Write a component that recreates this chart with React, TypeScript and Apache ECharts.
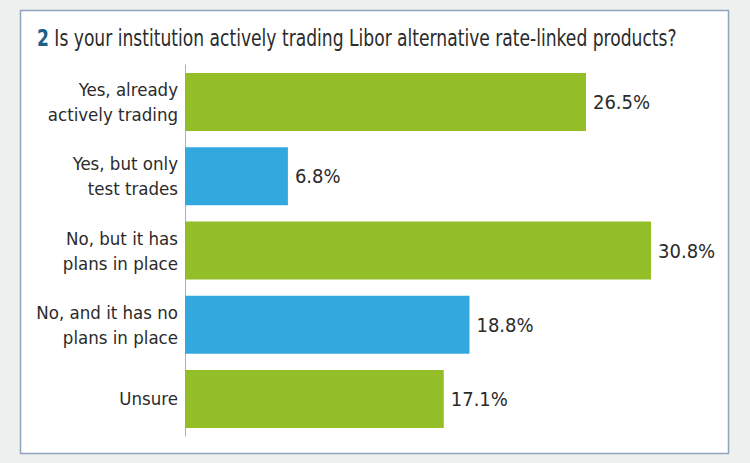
import React, { useEffect, useRef } from "react";
import * as echarts from "echarts";

const categories = [
  "Yes, already\nactively trading",
  "Yes, but only\ntest trades",
  "No, but it has\nplans in place",
  "No, and it has no\nplans in place",
  "Unsure",
];
const values = [26.5, 6.8, 30.8, 18.8, 17.1];
const barColors = ["#93be27", "#32a8de", "#93be27", "#32a8de", "#93be27"];
const titleNumber = "2";
const titleText = "Is your institution actively trading Libor alternative rate-linked products?";

const FONT = "'DejaVu Sans Condensed', 'Liberation Sans Narrow', 'Open Sans', sans-serif";

export default function App() {
  const ref = useRef<HTMLDivElement>(null);
  useEffect(() => {
    if (!ref.current) return;
    const chart = echarts.init(ref.current, undefined, { renderer: "svg" });
    chart.setOption({
      animation: false,
      backgroundColor: "#eff1f1",
      textStyle: { fontFamily: FONT },
      graphic: [
        {
          type: "rect",
          shape: { x: 20.5, y: 10.5, width: 708, height: 443 },
          style: { fill: "#ffffff", stroke: "#8ea5bd", lineWidth: 1.5 },
          z: -10,
        },
        {
          type: "text",
          x: 37,
          y: 38,
          scaleX: 0.828,
          style: {
            text: "{n|" + titleNumber + "} " + titleText,
            fontFamily: FONT,
            fontSize: 23,
            fill: "#2b2b2b",
            verticalAlign: "middle",
            rich: {
              n: { fontFamily: FONT, fontSize: 23, fontWeight: "bold", fill: "#1d5f8a" },
            },
          },
        },
      ],
      grid: { left: 185, right: 35.4, top: 65, bottom: 27, containLabel: false },
      xAxis: {
        type: "value",
        min: 0,
        max: 35,
        show: false,
      },
      yAxis: {
        type: "category",
        inverse: true,
        data: categories,
        axisLine: { show: true, lineStyle: { color: "#b0b0b0", width: 1 } },
        axisTick: { show: false },
        axisLabel: {
          fontFamily: FONT,
          fontSize: 18.5,
          color: "#2b2b2b",
          lineHeight: 25,
          margin: 7,
          align: "right",
        },
      },
      series: [
        {
          type: "bar",
          data: values.map((v, i) => ({ value: v, itemStyle: { color: barColors[i] } })),
          barWidth: 58,
          label: {
            show: true,
            position: "right",
            distance: 7,
            formatter: (p: any) => p.value.toFixed(1) + "%",
            fontFamily: FONT,
            fontSize: 20,
            color: "#2b2b2b",
          },
        },
      ],
    });
    return () => chart.dispose();
  }, []);
  return (
    <div
      ref={ref}
      style={{ position: "fixed", left: 0, top: 0, width: 750, height: 463 }}
    />
  );
}
